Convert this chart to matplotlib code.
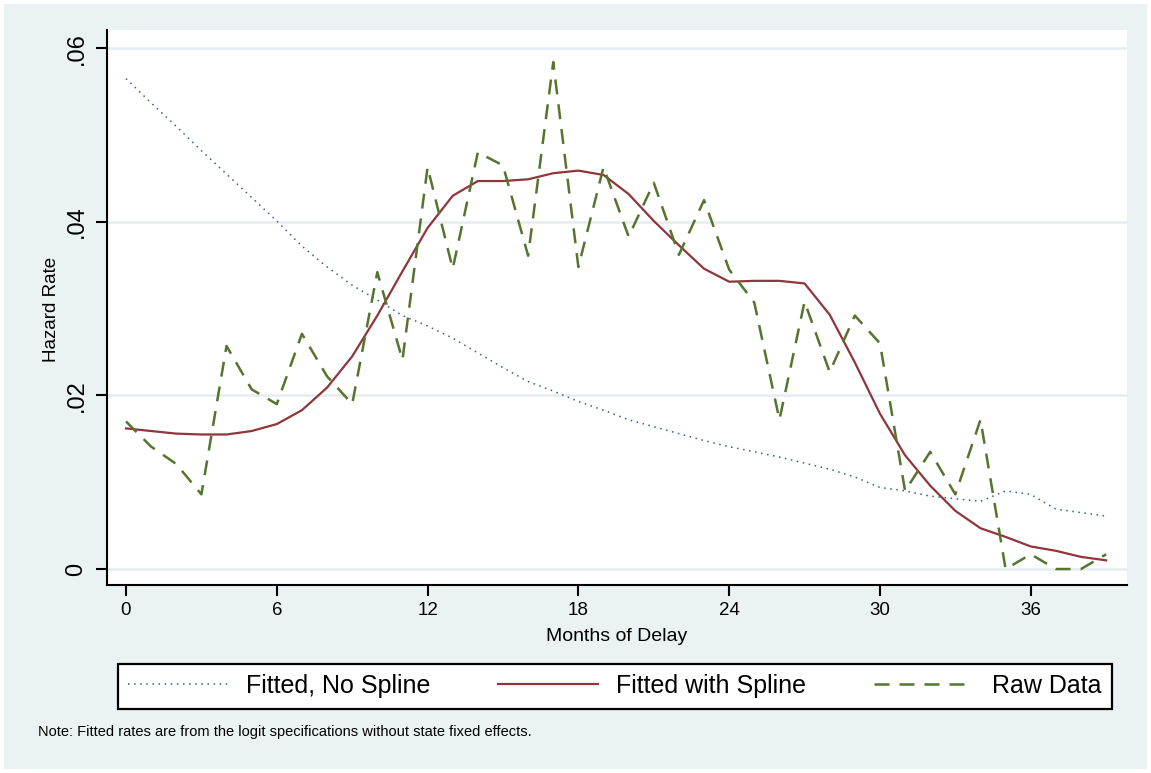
import matplotlib
matplotlib.use("Agg")
import matplotlib.pyplot as plt
from matplotlib.patches import Rectangle

plt.rcParams['font.family'] = ['Liberation Sans', 'DejaVu Sans']

months = list(range(40))

fitted_no_spline = [0.0565, 0.0537, 0.0510, 0.0482, 0.0455, 0.0428, 0.0401, 0.0372, 0.0348, 0.0327,
                    0.0310, 0.0292, 0.0280, 0.0266, 0.0249, 0.0232, 0.0216, 0.0205, 0.0193, 0.0183,
                    0.0172, 0.0164, 0.0156, 0.0148, 0.0141, 0.0135, 0.0129, 0.0122, 0.0115, 0.0106,
                    0.0094, 0.0090, 0.0084, 0.0081, 0.0078, 0.0090, 0.0086, 0.0069, 0.0065, 0.0061]

fitted_spline = [0.0162, 0.0159, 0.0156, 0.0155, 0.0155, 0.0159, 0.0167, 0.0183, 0.0209, 0.0245,
                 0.0292, 0.0343, 0.0393, 0.0430, 0.0447, 0.0447, 0.0449, 0.0456, 0.0459, 0.0454,
                 0.0432, 0.0401, 0.0373, 0.0346, 0.0331, 0.0332, 0.0332, 0.0329, 0.0293, 0.0238,
                 0.0179, 0.0131, 0.0096, 0.0067, 0.0047, 0.0037, 0.0026, 0.0021, 0.0014, 0.0010]

raw_data = [0.0170, 0.0141, 0.0121, 0.0086, 0.0257, 0.0207, 0.0190, 0.0271, 0.0222, 0.0190,
            0.0342, 0.0241, 0.0463, 0.0346, 0.0480, 0.0465, 0.0361, 0.0584, 0.0348, 0.0463,
            0.0383, 0.0445, 0.0362, 0.0425, 0.0345, 0.0307, 0.0172, 0.0308, 0.0227, 0.0292,
            0.0260, 0.0090, 0.0135, 0.0086, 0.0172, 0.0000, 0.0017, 0.0000, 0.0000, 0.0017]

series_labels = ["Fitted, No Spline", "Fitted with Spline", "Raw Data"]
x_ticks = [0, 6, 12, 18, 24, 30, 36]
y_ticks = [0, 0.02, 0.04, 0.06]
y_tick_labels = ["0", ".02", ".04", ".06"]
x_title = "Months of Delay"
y_title = "Hazard Rate"
note = "Note: Fitted rates are from the logit specifications without state fixed effects."

W, H = 1151, 773
BG = '#eaf2f3'

fig = plt.figure(figsize=(W / 100, H / 100), dpi=100)
fig.patch.set_facecolor('white')
fig.patches.append(Rectangle((4 / W, 4 / H), (W - 8) / W, (H - 8) / H,
                             transform=fig.transFigure, facecolor=BG,
                             edgecolor='none', zorder=-10))

ax = fig.add_axes([107 / W, 1 - 585 / H, (1127 - 107) / W, (585 - 30) / H])
ax.set_facecolor('white')

l1, = ax.plot(months, fitted_no_spline, color='#355f8c', lw=1.1, ls=(0, (1, 3)),
              label=series_labels[0])
l2, = ax.plot(months, fitted_spline, color='#90353b', lw=1.6, label=series_labels[1])
l3, = ax.plot(months, raw_data, color='#55752f', lw=1.8, ls=(0, (6, 4)),
              label=series_labels[2])

ax.set_xlim(-0.756, 39.83)
ax.set_ylim(-0.00184, 0.0621)
ax.set_xticks(x_ticks)
ax.set_xticklabels([str(t) for t in x_ticks])
ax.set_yticks(y_ticks)
ax.set_yticklabels(y_tick_labels)

ax.yaxis.grid(True, color='#e4edef', lw=1.8)
ax.set_axisbelow(True)

for s in ['top', 'right']:
    ax.spines[s].set_visible(False)
for s in ['left', 'bottom']:
    ax.spines[s].set_linewidth(1.5)
    ax.spines[s].set_color('black')

ax.tick_params(axis='x', length=8, width=1.5, labelsize=13.5, pad=4)
ax.tick_params(axis='y', length=8, width=1.5, labelsize=17, pad=6, labelrotation=90)
for lab in ax.get_yticklabels():
    lab.set_va('center')

ax.set_xlabel(x_title, fontsize=14)
ax.xaxis.set_label_coords(0.4995, -(636.7 - 585) / 555)
ax.xaxis.label.set_va('center')
ax.set_ylabel(y_title, fontsize=13.5)
ax.yaxis.set_label_coords((52 - 107) / 1020, (585 - 309) / 555)
ax.yaxis.label.set_va('center')

leg = fig.legend([l1, l2, l3], series_labels, loc='center',
                 bbox_to_anchor=(615 / W, 1 - 686 / H),
                 ncol=3, fontsize=18, handlelength=4.0,
                 handletextpad=0.72, columnspacing=2.72, frameon=True, fancybox=False,
                 edgecolor='black', facecolor='white', framealpha=1,
                 borderpad=0.42, borderaxespad=0)
leg.get_frame().set_linewidth(1.6)

fig.text(38 / W, 1 - 732 / H, note, fontsize=10.5, va='center', ha='left')

fig.savefig('out.png', dpi=100, facecolor=fig.get_facecolor())
